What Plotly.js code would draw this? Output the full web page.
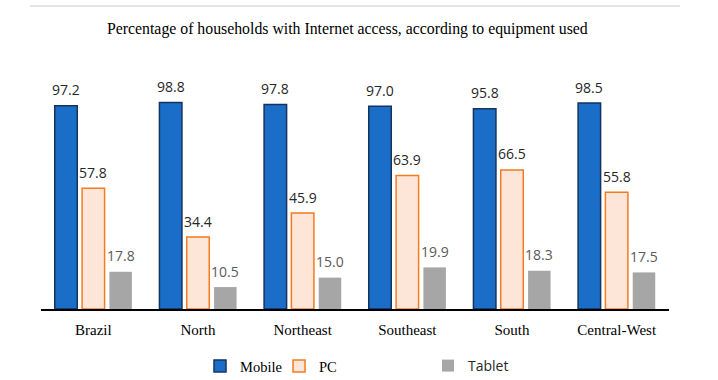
<!DOCTYPE html>
<html>
<head>
<meta charset="utf-8">
<script src="https://cdn.plot.ly/plotly-3.0.1.min.js"></script>
<style>html,body{margin:0;padding:0;background:#fff;}#chart{width:718px;height:380px;}</style>
</head>
<body>
<div id="chart"></div>
<script>
const categories = ["Brazil", "North", "Northeast", "Southeast", "South", "Central-West"];
const mobile = [97.2, 98.8, 97.8, 97.0, 95.8, 98.5];
const pc = [57.8, 34.4, 45.9, 63.9, 66.5, 55.8];
const tablet = [17.8, 10.5, 15.0, 19.9, 18.3, 17.5];
const seriesNames = ["Mobile", "PC", "Tablet"];

const fmt = v => v.toFixed(1);

const traces = [
  {type: 'bar', name: seriesNames[0], x: categories, y: mobile, legend: 'legend',
   marker: {color: '#1b6ec8', line: {color: '#14335e', width: 1.5}}, hoverinfo: 'none'},
  {type: 'bar', name: seriesNames[1], x: categories, y: pc, legend: 'legend2',
   marker: {color: '#fde6d8', line: {color: '#f47b20', width: 1.5}}, hoverinfo: 'none'},
  {type: 'bar', name: seriesNames[2], x: categories, y: tablet, legend: 'legend3',
   marker: {color: '#a6a6a6', line: {width: 0}}, hoverinfo: 'none'}
];

const slot = 27.3;
const annotations = [];
[mobile, pc, tablet].forEach((arr, si) => {
  arr.forEach((v, i) => {
    annotations.push({
      x: categories[i], y: v, xref: 'x', yref: 'y', text: fmt(v), showarrow: false,
      xshift: (si - 1) * slot, yshift: 16, yanchor: 'middle', xanchor: 'center',
      font: {family: 'Open Sans', size: 14, color: si === 2 ? '#595959' : '#262626'}
    });
  });
});

const serif = 'Liberation Serif';
const legY = 1 - 366 / 380;

const layout = {
  width: 718, height: 380,
  font: {family: serif, color: '#000'},
  margin: {l: 41, r: 49, t: 60, b: 71},
  paper_bgcolor: '#ffffff', plot_bgcolor: '#ffffff',
  barmode: 'group', bargap: 0.217, bargroupgap: 0.176,
  title: {text: 'Percentage of households with Internet access, according to equipment used',
          font: {family: serif, size: 15.8, color: '#000'},
          xref: 'container', yref: 'container', x: 107/718, xanchor: 'left', y: 1 - 28/380, yanchor: 'middle'},
  xaxis: {type: 'category', showline: true, linecolor: '#000', linewidth: 2, ticks: '',
          showgrid: false, zeroline: false, ticklabelstandoff: 6, automargin: false,
          tickfont: {family: serif, size: 15, color: '#000'}},
  yaxis: {range: [0, 119.1], visible: false, showgrid: false, zeroline: false, automargin: false},
  showlegend: true,
  legend: {orientation: 'h', xref: 'container', yref: 'container', x: 200/718, xanchor: 'left', y: legY, yanchor: 'middle',
           font: {family: serif, size: 14.5, color: '#000'}, bgcolor: 'rgba(0,0,0,0)'},
  legend2: {orientation: 'h', xref: 'container', yref: 'container', x: 279/718, xanchor: 'left', y: legY, yanchor: 'middle',
           font: {family: serif, size: 14.5, color: '#000'}, bgcolor: 'rgba(0,0,0,0)'},
  legend3: {orientation: 'h', xref: 'container', yref: 'container', x: 428/718, xanchor: 'left', y: legY, yanchor: 'middle',
           font: {family: 'Open Sans', size: 14, color: '#262626'}, bgcolor: 'rgba(0,0,0,0)'},
  annotations: annotations,
  shapes: [{type: 'line', xref: 'paper', yref: 'paper', x0: -0.0175, x1: 1.0175, y0: 1.217, y1: 1.217,
            line: {color: '#e4e4e4', width: 2}}]
};

Plotly.newPlot('chart', traces, layout, {displayModeBar: false, staticPlot: true});
</script>
</body>
</html>
